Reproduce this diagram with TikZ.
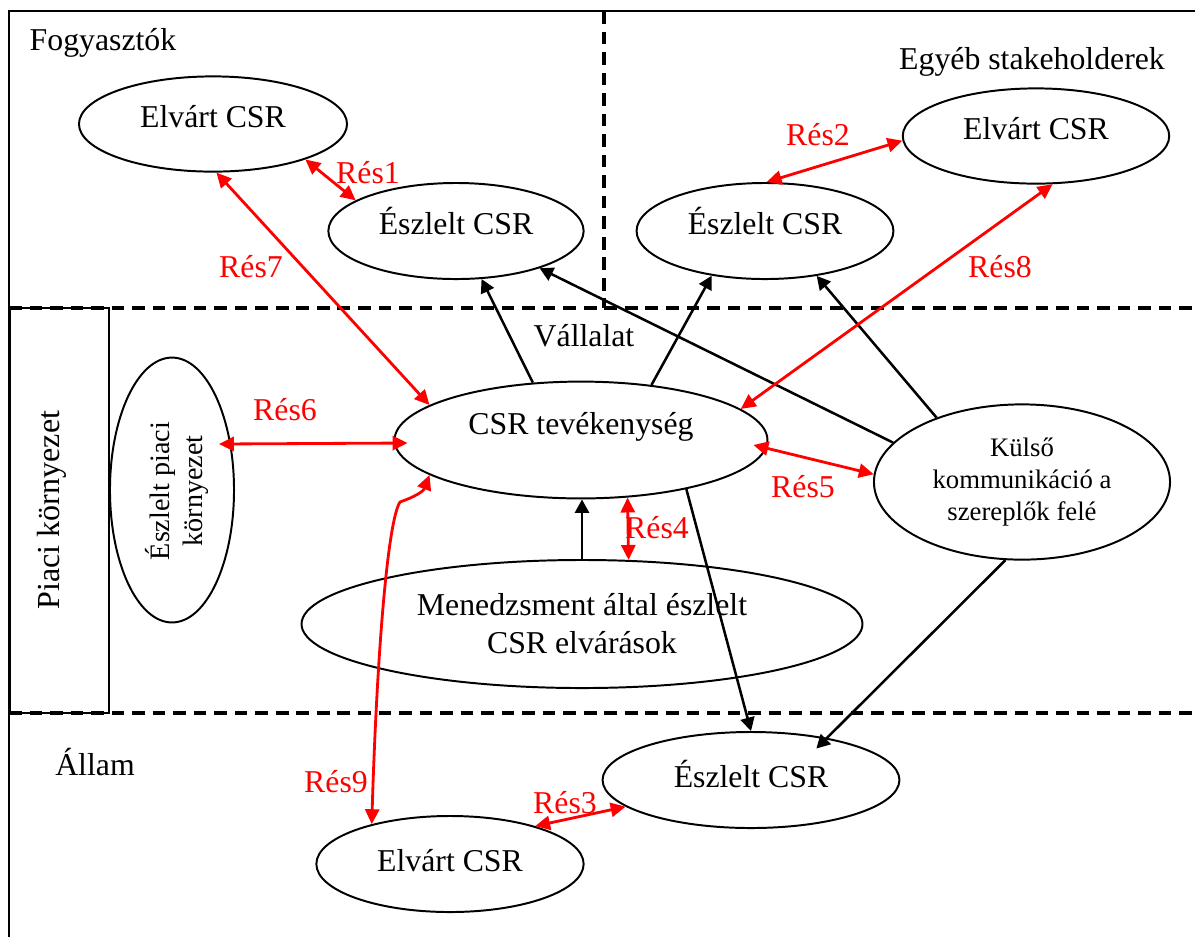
\documentclass[tikz,border=0pt]{standalone}
\usepackage{fontspec}
\setmainfont{Liberation Serif}
\usetikzlibrary{shapes.geometric,arrows.meta,calc}

\begin{document}
\begin{tikzpicture}[x=0.0125cm,y=-0.0125cm,
    font=\fontsize{11.3}{13.5}\selectfont,
    ell/.style={draw,ellipse,line width=0.7pt,inner sep=0pt,align=center},
    hi/.style={text height=7.5pt,text depth=5pt},
    lo/.style={text height=7.5pt,text depth=2.5pt},
    flow/.style={line width=0.9pt,-{Triangle[length=4.8pt,width=5pt]}},
    gap/.style={red,line width=1pt,{Triangle[length=5.3pt,width=5pt]}-{Triangle[length=5.3pt,width=5pt]}},
    zone/.style={line width=1.3pt,dash pattern=on 4.5pt off 2.8pt},
    res/.style={red}]
    \useasboundingbox (0,0) rectangle (1195,937);
    \draw[line width=0.7pt] (1195,11)--(9,11)--(9,937);
    \draw[line width=0.7pt] (10,308) rectangle (109,713);
    \draw[zone] (604,11)--(604,308);
    \draw[zone] (9,308)--(1195,308);
    \draw[zone] (9,713)--(1195,713);

    \node (fogy) at (103,43) {Fogyasztók};
    \node (egyeb) at (1032,62) {Egyéb stakeholderek};
    \node (vall) at (584,336) {Vállalat};
    \node (allam) at (95,762) {Állam};
    \node[rotate=90,font=\fontsize{11.4}{13.5}\selectfont] (piacikorny) at (52,510) {Piaci környezet};

    \node[ell,hi,minimum width=3.35cm,minimum height=1.19cm] (fElv) at (213,124) {Elvárt CSR};
    \node[ell,hi,minimum width=3.19cm,minimum height=1.2cm] (fEsz) at (456,231) {Észlelt CSR};
    \node[ell,hi,minimum width=3.21cm,minimum height=1.2cm] (eEsz) at (765,231) {Észlelt CSR};
    \node[ell,hi,minimum width=3.33cm,minimum height=1.19cm] (eElv) at (1036,136) {Elvárt CSR};
    \node[ell,minimum width=4.66cm,minimum height=1.46cm] (csr) at (581,440) {};
    \node (csrtxt) at (581,427) {CSR tevékenység};
    \node[ell,minimum width=7.01cm,minimum height=1.6cm] (men) at (582,624) {Menedzsment által észlelt\\CSR elvárások};
    \node[ell,minimum width=1.55cm,minimum height=3.31cm] (piaci) at (172,490) {};
    \node[rotate=90,align=center,font=\fontsize{10}{11.7}\selectfont] (piacitxt) at (177,491) {Észlelt piaci\\környezet};
    \node[ell,minimum width=3.7cm,minimum height=1.94cm,font=\fontsize{9.5}{11.4}\selectfont] (kulso) at (1022,482) {Külső\\kommunikáció a\\szereplők felé};
    \node[ell,lo,minimum width=3.71cm,minimum height=1.2cm] (aEsz) at (751,780) {Észlelt CSR};
    \node[ell,lo,minimum width=3.34cm,minimum height=1.2cm] (aElv) at (450,864) {Elvárt CSR};
    \coordinate (bend9) at (400,502);

    \draw[flow] (csr.130)--(fEsz.-62);
    \draw[flow] (kulso.163)--(fEsz.-24);
    \draw[flow] (csr.38)--(eEsz.-140);
    \draw[flow] (kulso.143)--(eEsz.-41);
    \draw[flow] (csr.-25)--(aEsz.north);
    \draw[flow,shorten >=-0.19cm] (kulso.-102)--(aEsz.29);
    \draw[flow] (men.north)--(men.north |- csr.south);

    \draw[gap] (fElv.-21)--(fEsz.163);
    \draw[gap] (eEsz.88)--(eElv.182);
    \draw[gap] (aElv.24)--(aEsz.-168);
    \draw[gap] (csr.-51)--(men.54);
    \draw[gap] ($(csr.east)+(-15,5)$)--(kulso.177);
    \draw[gap] ($(piaci.east)+(-16,-46)$)--($(csr.west)+(14,3)$);
    \draw[gap] (fElv.-86)--(csr.167);
    \draw[gap] (eElv.-71)--(csr.11);
    \draw[gap] (aElv.153) .. controls (377,650) and (388,520) .. (bend9) .. controls (414,497) and (423,492) .. (csr.-167);

    \node[res] (r1) at (368,173) {Rés1};
    \node[res] (r2) at (818,135) {Rés2};
    \node[res] (r3) at (565,803) {Rés3};
    \node[res] (r4) at (657,528) {Rés4};
    \node[res] (r5) at (803,487) {Rés5};
    \node[res] (r6) at (285,410) {Rés6};
    \node[res] (r7) at (251,267) {Rés7};
    \node[res] (r8) at (1000,267) {Rés8};
    \node[res] (r9) at (336,782) {Rés9};
\end{tikzpicture}
\end{document}
